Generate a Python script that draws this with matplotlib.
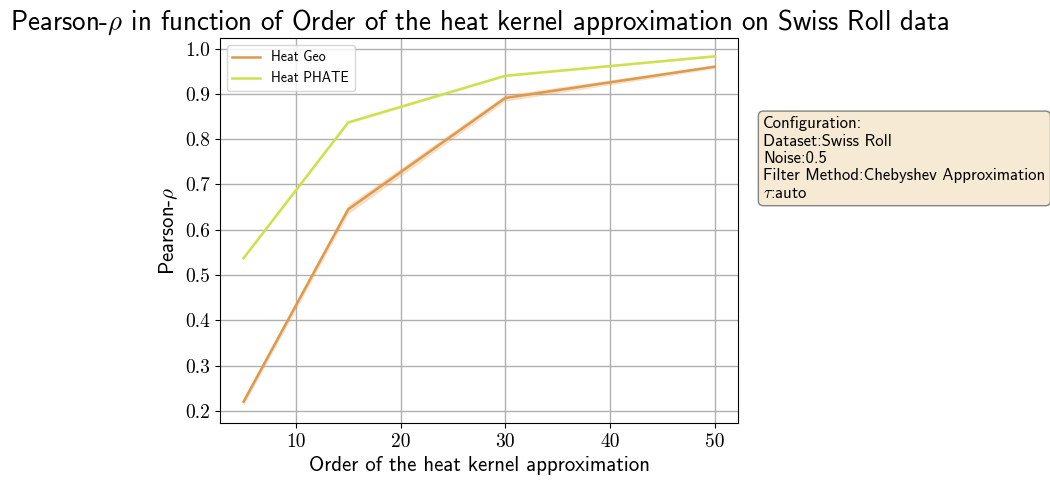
import numpy as np
import matplotlib
matplotlib.use("Agg")
import matplotlib.pyplot as plt

plt.rcParams['mathtext.fontset'] = 'cm'
plt.rcParams['axes.unicode_minus'] = False

# data
orders = [5, 15, 30, 50]
geo_mean = [0.220, 0.645, 0.891, 0.960]
geo_low = [0.212, 0.635, 0.884, 0.956]
geo_high = [0.228, 0.655, 0.898, 0.964]
phate_mean = [0.537, 0.837, 0.940, 0.983]
phate_low = [0.535, 0.834, 0.938, 0.981]
phate_high = [0.539, 0.840, 0.942, 0.985]
y_ticks = [0.2, 0.3, 0.4, 0.5, 0.6, 0.7, 0.8, 0.9, 1.0]
x_ticks = [10, 20, 30, 40, 50]

geo_color = '#E0994A'
phate_color = '#D0E04A'
sans = 'cmss10'
serif = 'cmr10'

fig = plt.figure(figsize=(10.5, 4.8), dpi=100)
ax = fig.add_axes([0.2095, 0.119, 0.4935, 0.802])

ax.fill_between(orders, geo_low, geo_high, color=geo_color, alpha=0.3, lw=0)
ax.plot(orders, geo_mean, color=geo_color, lw=1.8, label='Heat Geo')
ax.fill_between(orders, phate_low, phate_high, color=phate_color, alpha=0.3, lw=0)
ax.plot(orders, phate_mean, color=phate_color, lw=1.8, label='Heat PHATE')

ax.set_xticks(x_ticks)
ax.set_xticklabels([str(t) for t in x_ticks], fontfamily=serif, fontsize=14)
ax.set_yticks(y_ticks)
ax.set_yticklabels([f'{t:.1f}' for t in y_ticks], fontfamily=serif, fontsize=14)
ax.grid(True, color='#b0b0b0', lw=1)
ax.set_axisbelow(True)

ax.set_xlabel('Order of the heat kernel approximation', fontfamily=sans, fontsize=15)
ax.set_ylabel(r'Pearson-$\rho$', fontfamily=sans, fontsize=15)
ax.set_title(r'Pearson-$\rho$ in function of Order of the heat kernel approximation on Swiss Roll data',
             fontfamily=sans, fontsize=19.4, pad=6)

leg = ax.legend(loc='upper left', prop={'family': sans, 'size': 10})

config = ('Configuration:\nDataset:Swiss Roll\nNoise:0.5\n'
          'Filter Method:Chebyshev Approximation\n$\\tau$:auto')
fig.text(0.727, 0.67, config, fontfamily=sans, fontsize=12, va='center', ha='left',
         linespacing=1.2,
         bbox=dict(boxstyle='round,pad=0.3', facecolor='#F6E8D0', edgecolor='#777777', alpha=0.9))

fig.savefig('out.png', dpi=100)
